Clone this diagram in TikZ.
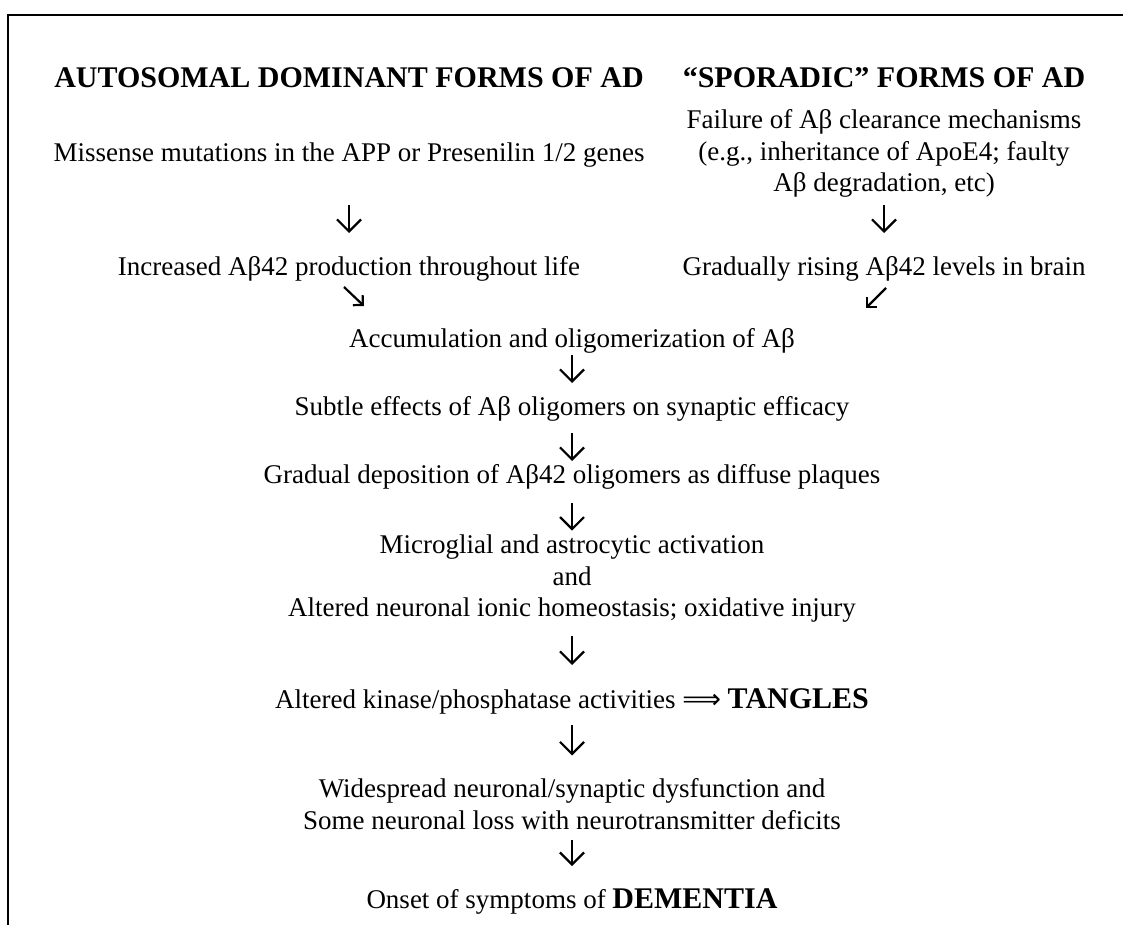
\documentclass[tikz,border=0pt]{standalone}
\usepackage{fontspec}
\setmainfont{Liberation Serif}
\newfontfamily\arrowfont{DejaVu Sans}
\usetikzlibrary{arrows.meta,positioning,calc}

\tikzset{
  txt/.style={inner sep=0pt, align=center, font=\fontsize{13.5}{15.75}\selectfont},
  title/.style={inner sep=0pt, font=\fontsize{15}{18}\selectfont\bfseries},
  arr/.style={-{Straight Barb[length=6pt,width=12pt]}, line width=1.1pt},
  arrd/.style={-{Straight Barb[length=3.5pt,width=7pt]}, line width=1.1pt}
}

\begin{document}
\begin{tikzpicture}[x=0.5pt, y=-0.5pt]
\useasboundingbox (0,0) rectangle (1123,925);
% frame
\draw[line width=0.9pt] (8,925) -- (8,15) -- (1123,15);

% headers
\node[title, anchor=base] (adhead) at (349,88) {AUTOSOMAL DOMINANT FORMS OF AD};
\node[title, anchor=base] (sphead) at (884,88) {“SPORADIC” FORMS OF AD};

% left column
\node[txt, anchor=base] (missense) at (349,162) {Missense mutations in the APP or Presenilin 1/2 genes};
\node[txt, anchor=base] (increased) at (349,275) {Increased Aβ42 production throughout life};

% right column
\node[txt, anchor=north] (failure) at (884,109.4) {
Failure of Aβ clearance mechanisms \\
(e.g., inheritance of ApoE4; faulty \\
Aβ degradation, etc)
};
\node[txt, anchor=base] (rising) at (884,275) {Gradually rising Aβ42 levels in brain};

% common pathway
\node[txt, anchor=base] (accum) at (572,347) {Accumulation and oligomerization of Aβ};
\node[txt, anchor=base] (subtle) at (572,415) {Subtle effects of Aβ oligomers on synaptic efficacy};
\node[txt, anchor=base] (deposit) at (572,483) {Gradual deposition of Aβ42 oligomers as diffuse plaques};
\node[txt, anchor=north] (glia) at (572,534.6) {
Microglial and astrocytic activation \\
and \\
Altered neuronal ionic homeostasis; oxidative injury
};
\node[txt, anchor=base] (kinase) at (572,708) {Altered kinase/phosphatase activities {\arrowfont ⟹} {\fontsize{15}{18}\selectfont\bfseries TANGLES}};
\node[txt, anchor=north] (dysfunc) at (572,778.5) {
Widespread neuronal/synaptic dysfunction and \\
Some neuronal loss with neurotransmitter deficits
};
\node[txt, anchor=base] (onset) at (572,908) {Onset of symptoms of {\fontsize{15}{18}\selectfont\bfseries DEMENTIA}};

% arrows
\draw[arr] ($(missense.base)+(0,43)$) -- ($(increased.base)+(0,-42)$);
\draw[arr] ($(failure.south)+(0,7)$) -- ($(rising.base)+(0,-42)$);
\draw[arrd] ($(increased.base)+(-5,12)$) -- ($(accum.base)+(-208,-41)$);
\draw[arrd] ($(rising.base)+(2,13)$) -- ($(accum.base)+(294,-39)$);
\draw[arr] ($(accum.base)+(0,8)$) -- ($(subtle.base)+(0,-32)$);
\draw[arr] ($(subtle.base)+(0,18)$) -- ($(deposit.base)+(0,-22)$);
\draw[arr] ($(deposit.base)+(0,20)$) -- ($(glia.north)+(0,-4)$);
\draw[arr] ($(glia.south)+(0,13)$) -- ($(kinase.base)+(0,-43)$);
\draw[arr] ($(kinase.base)+(0,17)$) -- ($(dysfunc.north)+(0,-23)$);
\draw[arr] ($(dysfunc.south)+(0,10)$) -- ($(onset.base)+(0,-42)$);
\end{tikzpicture}
\end{document}
